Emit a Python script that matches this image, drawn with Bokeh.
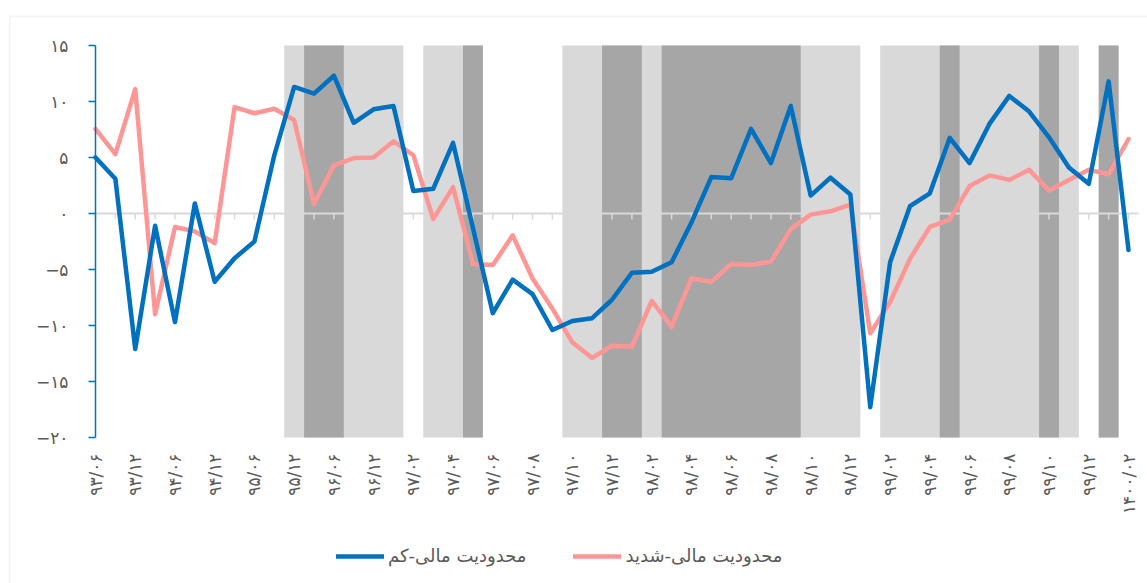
import math
from bokeh.plotting import figure
from bokeh.models import (Legend, LegendItem, FixedTicker, Range1d,
                          ColumnDataSource, BoxAnnotation)
from bokeh.embed import file_html
from bokeh.resources import INLINE

periods = [
    "۹۳/۰۶", "۹۳/۰۹", "۹۳/۱۲", "۹۴/۰۳", "۹۴/۰۶", "۹۴/۰۹", "۹۴/۱۲", "۹۵/۰۳",
    "۹۵/۰۶", "۹۵/۰۹", "۹۵/۱۲", "۹۶/۰۳", "۹۶/۰۶", "۹۶/۰۹", "۹۶/۱۲",
    "۹۷/۰۱", "۹۷/۰۲", "۹۷/۰۳", "۹۷/۰۴", "۹۷/۰۵", "۹۷/۰۶", "۹۷/۰۷", "۹۷/۰۸",
    "۹۷/۰۹", "۹۷/۱۰", "۹۷/۱۱", "۹۷/۱۲",
    "۹۸/۰۱", "۹۸/۰۲", "۹۸/۰۳", "۹۸/۰۴", "۹۸/۰۵", "۹۸/۰۶", "۹۸/۰۷", "۹۸/۰۸",
    "۹۸/۰۹", "۹۸/۱۰", "۹۸/۱۱", "۹۸/۱۲",
    "۹۹/۰۱", "۹۹/۰۲", "۹۹/۰۳", "۹۹/۰۴", "۹۹/۰۵", "۹۹/۰۶", "۹۹/۰۷", "۹۹/۰۸",
    "۹۹/۰۹", "۹۹/۱۰", "۹۹/۱۱", "۹۹/۱۲",
    "۱۴۰۰/۰۱", "۱۴۰۰/۰۲",
]

low_constraint = [
    5.0, 3.1, -12.1, -1.1, -9.7, 0.9, -6.1, -4.0, -2.5, 5.2,
    11.3, 10.7, 12.3, 8.1, 9.3, 9.6, 2.0, 2.2, 6.3, -1.3,
    -8.9, -5.9, -7.2, -10.4, -9.6, -9.35, -7.7, -5.3, -5.2, -4.35,
    -0.8, 3.25, 3.15, 7.55, 4.5, 9.6, 1.6, 3.2, 1.7, -17.3,
    -4.35, 0.65, 1.8, 6.75, 4.5, 8.0, 10.5, 9.1, 6.8, 4.1,
    2.65, 11.8, -3.25,
]

high_constraint = [
    7.55, 5.3, 11.1, -9.0, -1.2, -1.6, -2.65, 9.5, 8.95, 9.35,
    8.35, 0.85, 4.3, 4.95, 5.0, 6.45, 5.2, -0.5, 2.35, -4.5,
    -4.6, -1.95, -5.8, -8.5, -11.5, -12.9, -11.8, -11.9, -7.8, -10.1,
    -5.8, -6.1, -4.5, -4.6, -4.3, -1.4, -0.1, 0.2, 0.8, -10.7,
    -7.9, -4.05, -1.2, -0.55, 2.45, 3.4, 3.0, 3.9, 2.05, 3.0,
    3.9, 3.5, 6.65,
]

# 0 = none, 1 = light band, 2 = dark band
shade = [
    0, 0, 0, 0, 0, 0, 0, 0, 0, 0,
    1, 2, 2, 1, 1, 1, 0, 1, 1, 2,
    0, 0, 0, 0, 1, 1, 2, 2, 1, 2,
    2, 2, 2, 2, 2, 2, 1, 1, 1, 0,
    1, 1, 1, 2, 1, 1, 1, 1, 2, 1,
    0, 2, 0,
]

y_ticks = [-20, -15, -10, -5, 0, 5, 10, 15]
y_tick_labels = ["−۲۰", "−۱۵", "−۱۰", "−۵", "۰", "۵", "۱۰", "۱۵"]

legend_low = "محدودیت مالی-کم"
legend_high = "محدودیت مالی-شدید"

BLUE = "#0070C0"
PINK = "#FF9696"
LIGHT = "#D9D9D9"
DARK = "#A6A6A6"
TEXT = "#595959"
FONT = "DejaVu Sans"

idx = list(range(len(periods)))
y_lo, y_hi = y_ticks[0], y_ticks[-1]
x_end_cat = len(periods) - 0.5

# page layout in pixels (the frame covers the whole canvas)
W, H = 1147, 583
AX_X0, AX_X1 = 95, 1128          # pixel x of first / last category
AX_YT, AX_YB = 45, 437           # pixel y of y_hi / y_lo
ppx = (AX_X1 - AX_X0) / (len(periods) - 1)
ppy = (AX_YB - AX_YT) / (y_hi - y_lo)
x_view = (-AX_X0 / ppx, (W - AX_X0) / ppx)
y_view = (y_lo - (H - AX_YB) / ppy, y_hi + AX_YT / ppy)

p = figure(width=W, height=H, output_backend="svg", toolbar_location=None,
           x_range=Range1d(*x_view), y_range=Range1d(*y_view),
           min_border_left=0, min_border_right=0, min_border_top=0,
           min_border_bottom=0, x_axis_location=None)
p.outline_line_color = None
p.xgrid.visible = False
p.ygrid.visible = False
p.background_fill_color = "white"
p.border_fill_color = "white"

# chart-area border (only its left and top edges are in view);
# screen y for this annotation counts from the bottom
border = BoxAnnotation(left=9, right=W + 20, top=H - 16, bottom=-20,
                       left_units="screen", right_units="screen",
                       top_units="screen", bottom_units="screen",
                       fill_color=None, fill_alpha=0, line_color=LIGHT,
                       line_width=1.5)
p.add_layout(border)

# shaded bands: merge consecutive categories into runs
def runs(test):
    out, start = [], None
    for i in idx + [len(idx)]:
        ok = i < len(idx) and test(shade[i])
        if ok and start is None:
            start = i
        elif not ok and start is not None:
            out.append((start - 0.5, i - 0.5))
            start = None
    return out

for rr, col in ((runs(lambda s: s > 0), LIGHT), (runs(lambda s: s == 2), DARK)):
    q = p.quad(left=[a for a, b in rr], right=[b for a, b in rr],
               top=y_hi, bottom=y_lo, fill_color=col, line_color=None)
    q.level = "image"

# zero line with category ticks
zl = p.ray(x=[0], y=[0], length=x_end_cat, length_units="data", angle=0,
           line_color=LIGHT, line_width=2)
zl.level = "underlay"
tr = p.ray(x=idx, y=0, length=6, length_units="screen", angle=-math.pi / 2,
           line_color=LIGHT, line_width=1.5)
tr.level = "underlay"

src = ColumnDataSource(dict(x=idx, lo=low_constraint, hi=high_constraint))
r_hi = p.line("x", "hi", source=src, line_color=PINK, line_width=4.5,
              line_join="round", line_cap="round")
r_lo = p.line("x", "lo", source=src, line_color=BLUE, line_width=4.5,
              line_join="round", line_cap="round")

# y axis pinned at the first category
ya = p.yaxis[0]
ya.fixed_location = 0
ya.ticker = FixedTicker(ticks=y_ticks)
ya.bounds = (y_lo, y_hi)
ya.major_label_overrides = {t: l for t, l in zip(y_ticks, y_tick_labels)}
ya.axis_line_color = BLUE
ya.axis_line_width = 1.5
ya.major_tick_line_color = BLUE
ya.major_tick_line_width = 1.5
ya.major_tick_out = 7
ya.major_tick_in = 0
ya.minor_tick_line_color = None
ya.major_label_standoff = 20
ya.major_label_text_font = FONT
ya.major_label_text_font_size = "17px"
ya.major_label_text_color = TEXT

# category labels below the plot area (every second period)
label_ticks = idx[::2]
lsrc = ColumnDataSource(dict(x=label_ticks, t=[periods[i] for i in label_ticks]))
p.text(x="x", y=y_lo, text="t", source=lsrc, angle=math.pi / 2,
       y_offset=16, text_align="right", text_baseline="middle",
       text_font_size="17px", text_color=TEXT,
       text_font={"value": FONT})

legend = Legend(items=[LegendItem(label=legend_low, renderers=[r_lo]),
                       LegendItem(label=legend_high, renderers=[r_hi])],
                orientation="horizontal", location=(336, 17),
                glyph_width=48, glyph_height=20, label_standoff=4,
                spacing=47, padding=6, margin=0,
                label_text_font=FONT, label_text_font_size="18px",
                label_text_color=TEXT, border_line_color=None,
                background_fill_alpha=0)
p.add_layout(legend)

open("out.html", "w").write(file_html(p, INLINE))
